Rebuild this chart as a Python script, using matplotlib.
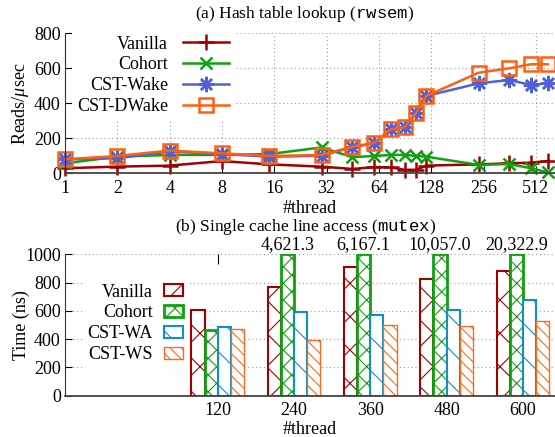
import numpy as np
import matplotlib
matplotlib.use('Agg')
import matplotlib.pyplot as plt

plt.rcParams['font.family'] = 'Liberation Serif'
plt.rcParams['font.size'] = 13
plt.rcParams['mathtext.fontset'] = 'custom'
plt.rcParams['mathtext.rm'] = 'Liberation Serif'
plt.rcParams['mathtext.it'] = 'Liberation Serif:italic'
plt.rcParams['mathtext.tt'] = 'Liberation Mono'
plt.rcParams['hatch.linewidth'] = 0.8

# (a) hash table lookup, reads/usec
threads = [1, 2, 4, 8, 15, 30, 45, 60, 75, 90, 105, 120, 240, 360, 480, 600]
vanilla = [29, 38, 44, 70, 51, 38, 25, 35, 34, 20, 20, 44, 51, 57, 61, 70]
cohort = [57, 95, 105, 105, 110, 148, 92, 99, 105, 105, 99, 95, 48, 53, 29, 5]
cst_wake = [80, 86, 125, 110, 95, 100, 150, 171, 251, 263, 347, 442, 514, 533, 505, 514]
cst_dwake = [80, 99, 130, 114, 99, 105, 152, 173, 251, 263, 347, 442, 575, 600, 623, 623]
xticks_a = [1, 2, 4, 8, 16, 32, 64, 128, 256, 512]

# (b) single cache line access, time (ns)
groups = ['120', '240', '360', '480', '600']
b_vanilla = [604, 765, 912, 822, 881]
b_cohort = [462, 4621.3, 6167.1, 10057.0, 20322.9]
b_wa = [486, 592, 573, 604, 673]
b_ws = [474, 396, 502, 495, 526]

W, H = 555, 437
fig = plt.figure(figsize=(W / 100, H / 100), dpi=100)
ax1 = fig.add_axes([65 / W, 1 - 173.3 / H, 490 / W, 140 / H])
ax2 = fig.add_axes([65 / W, 1 - 395.5 / H, 490 / W, 141.2 / H])

grid_kw = dict(color='#999999', linestyle=(0, (1, 2.5)), linewidth=0.8)

# ---- top plot
lw = 1.8
ax1.plot(threads, vanilla, color='#a00000', lw=lw, marker='+', ms=11, mew=1.8,
         label='Vanilla', clip_on=False)
ax1.plot(threads, cohort, color='#10a010', lw=lw, marker='x', ms=9, mew=1.8,
         label='Cohort', clip_on=False)
ax1.plot(threads, cst_wake, color='#5060d8', lw=lw, marker=(8, 2, 0), ms=11, mew=1.8,
         label='CST-Wake', clip_on=False)
ax1.plot(threads, cst_dwake, color='#ff6010', lw=lw, marker='s', ms=9.5, mew=1.8,
         mfc='none', label='CST-DWake', clip_on=False)
ax1.set_xscale('log', base=2)
ax1.set_xlim(1, 660)
ax1.set_ylim(0, 800)
ax1.set_xticks(xticks_a)
ax1.set_xticklabels([str(t) for t in xticks_a])
ax1.minorticks_off()
ax1.set_yticks(range(0, 801, 200))
ax1.grid(True, **grid_kw)
ax1.set_axisbelow(True)
ax1.tick_params(axis='y', direction='in', length=5, width=0.8, pad=3)
ax1.tick_params(axis='x', direction='in', length=5, width=0.8, pad=5)
ax1.set_ylabel(r'Reads/$\mu$sec')
ax1.yaxis.set_label_coords(-0.07, 0.5)
ax1.set_xlabel('#thread', labelpad=2)
for s in ['top', 'right']:
    ax1.spines[s].set_visible(False)
ax1.spines['left'].set_color('#333333')
ax1.spines['bottom'].set_color('#444444')
ax1.spines['bottom'].set_linewidth(1.3)
leg1 = ax1.legend(loc='upper right', bbox_to_anchor=(234 / W, 1 - 31 / H),
                  bbox_transform=fig.transFigure, markerfirst=False,
                  handlelength=2.6, handletextpad=0.8, labelspacing=0.21,
                  borderpad=0.25, borderaxespad=0, fancybox=False,
                  framealpha=1, edgecolor='none', facecolor='white')
fig.text(305 / W, 1 - 14 / H, r'(a) Hash table lookup ($\mathtt{rwsem}$)',
         ha='center', va='center', fontsize=12.5)

# ---- bottom plot
x = np.arange(len(groups))
bw = 0.172
ymax = 1000
styles = [
    ('Vanilla', b_vanilla, '#a00000', 'x', 1.5),
    ('Cohort', b_cohort, '#10a010', 'xx', 2.0),
    ('CST-WA', b_wa, '#1090c8', '\\', 1.5),
    ('CST-WS', b_ws, '#ff6a1a', '\\\\\\', 1.0),
]
for i, (name, vals, col, hat, ew) in enumerate(styles):
    ax2.bar(x + (i - 1.5) * bw, np.minimum(vals, ymax), bw, facecolor='white',
            edgecolor=col, hatch=hat, linewidth=ew, label=name, zorder=2)
for xi, v in zip(x, b_cohort):
    if v > ymax:
        ax2.text(xi - 0.5 * bw, ymax + 66, f'{v:,.1f}', ha='center', va='center')
ax2.set_xlim(-2.0, 4.42)
ax2.set_ylim(0, ymax)
ax2.set_xticks(x)
ax2.set_xticklabels(groups)
ax2.set_yticks(range(0, 1001, 200))
ax2.yaxis.grid(True, **grid_kw)
ax2.set_axisbelow(True)
ax2.tick_params(axis='y', direction='in', length=5, width=0.8, pad=3)
ax2.tick_params(axis='x', direction='in', length=7, width=0.8, top=True, pad=5)
ax2.set_ylabel('Time (ns)')
ax2.yaxis.set_label_coords(-0.072, 0.5)
ax2.set_xlabel('#thread', labelpad=1)
for s in ['top', 'right']:
    ax2.spines[s].set_visible(False)
ax2.spines['left'].set_color('#333333')
ax2.spines['bottom'].set_color('#444444')
ax2.spines['bottom'].set_linewidth(1.3)
leg2 = ax2.legend(loc='upper right', bbox_to_anchor=(188 / W, 1 - 279 / H),
                  bbox_transform=fig.transFigure, markerfirst=False,
                  handlelength=1.1, handleheight=0.6, handletextpad=0.6,
                  labelspacing=0.22, borderpad=0.25, borderaxespad=0,
                  fancybox=False, framealpha=1, edgecolor='none', facecolor='white')
fig.text(306 / W, 1 - 227 / H, r'(b) Single cache line access ($\mathtt{mutex}$)',
         ha='center', va='center', fontsize=12.5)

fig.savefig('out.png', dpi=100)
